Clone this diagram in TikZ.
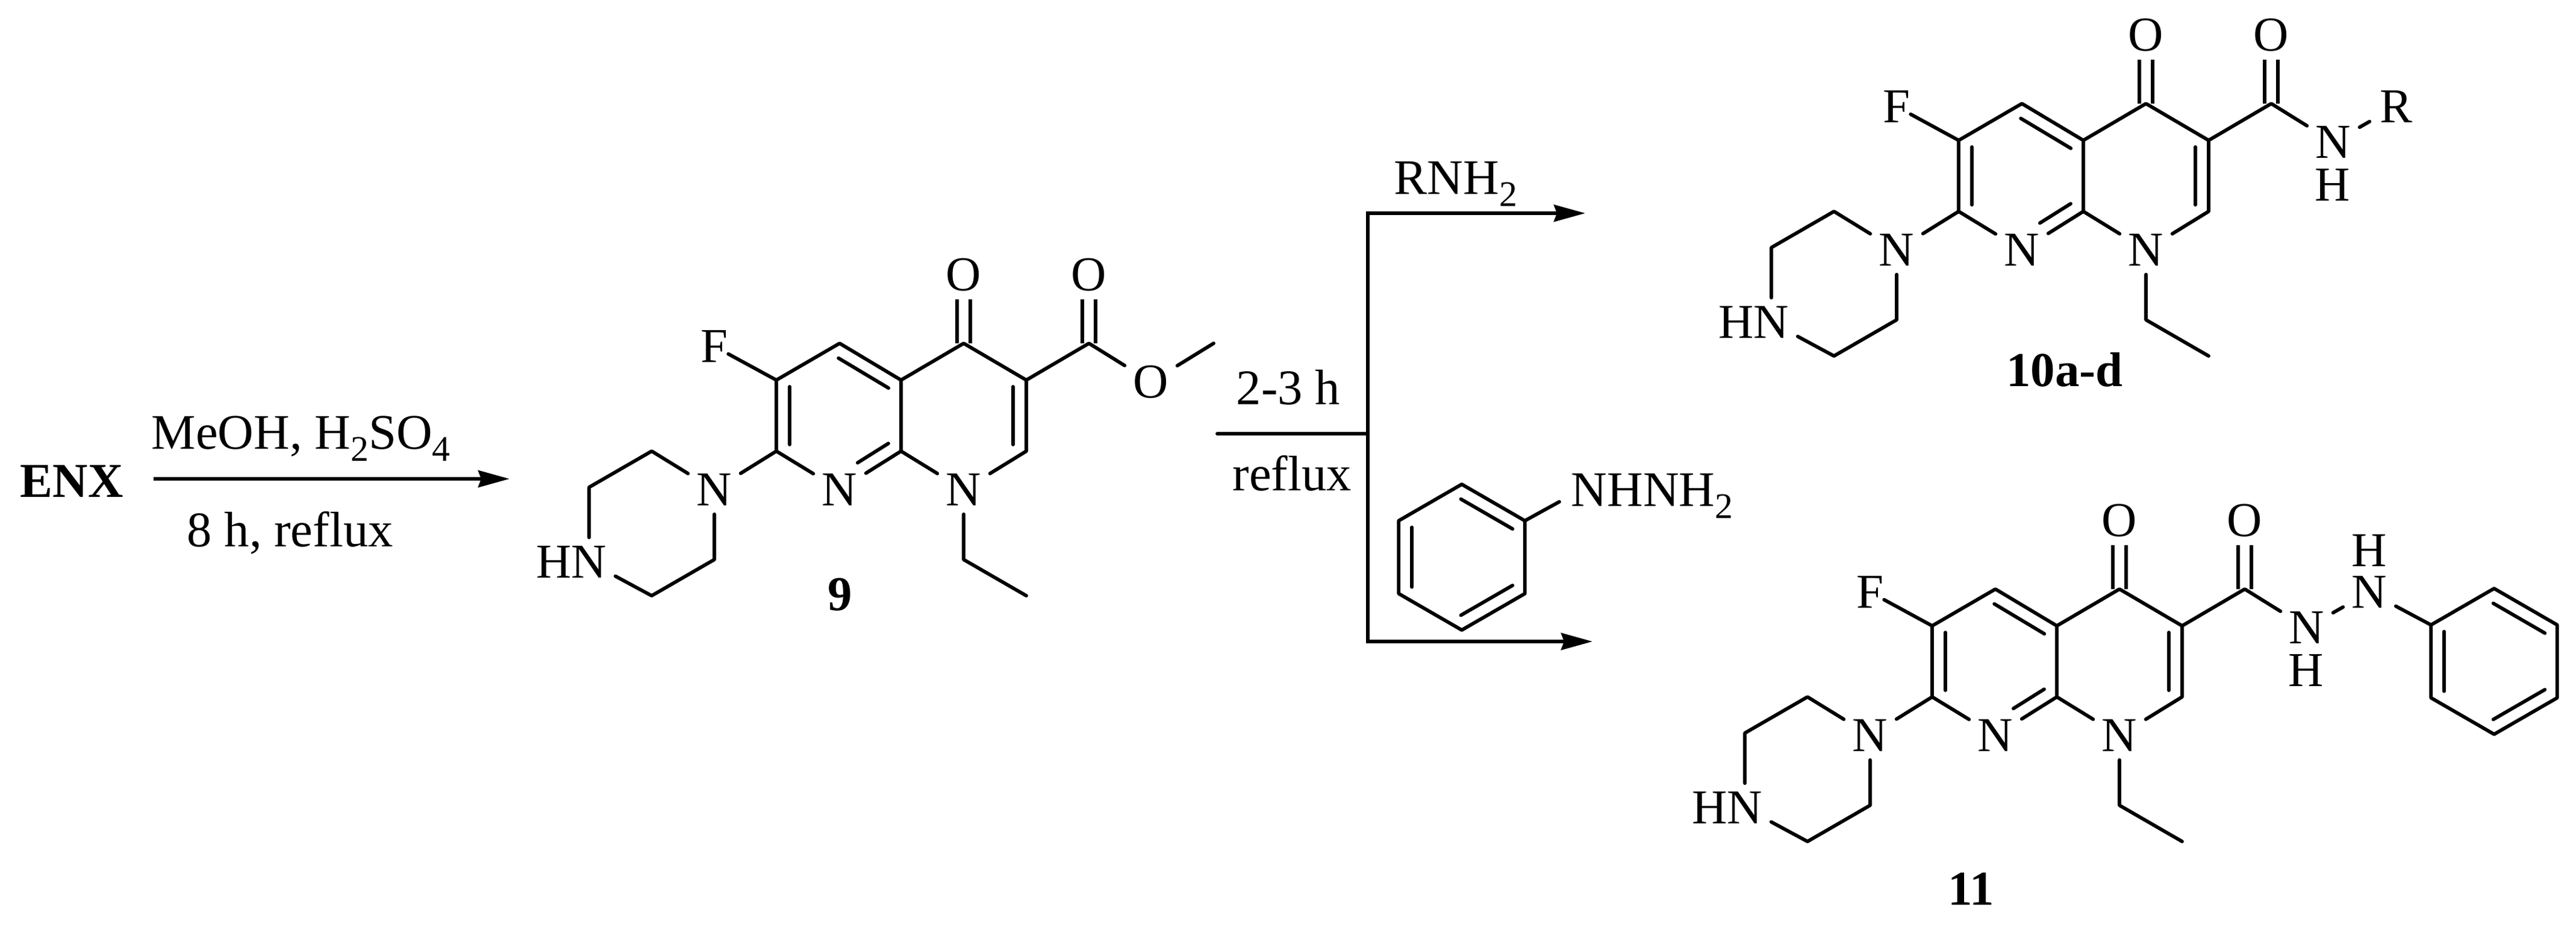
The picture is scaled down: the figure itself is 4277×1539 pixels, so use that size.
\documentclass[tikz,border=0pt]{standalone}
\usepackage{fontspec}
\setmainfont{Liberation Serif}
\usetikzlibrary{calc,arrows.meta}
\tikzset{
  bond/.style={line width=0.058cm,line cap=round,line join=round},
  dblbond/.style={line width=0.058cm,double,double distance=0.16cm},
  ringbond/.style={bond,shorten >=0.11cm,shorten <=0.11cm},
  atom/.style={font=\fontsize{23}{23}\selectfont,inner sep=0pt,minimum width=0.86cm,minimum height=0.8cm},
  tight/.style={font=\fontsize{23}{23}\selectfont,inner sep=0pt},
  reag/.style={font=\fontsize{23.5}{24}\selectfont,inner sep=0pt,anchor=base west},
  cpd/.style={font=\fontsize{23}{23}\selectfont\bfseries,inner sep=0pt,anchor=base},
  rxn/.style={line width=0.058cm}
}
\newcommand\subnum[1]{\raisebox{-0.25em}{\fontsize{17}{17}\selectfont #1}}
\newcommand\ringline[3][]{\draw[ringbond,#1]($(#2)!0.22cm!90:(#3)$)--($(#3)!0.22cm!-90:(#2)$);}
% naphthyridone core, #3 is the atom on the acyl group
\newcommand\corering[3]{
\begin{scope}[shift={(#1)},name prefix=#2-]
\coordinate (c6) at (1289,631);
\coordinate (c5) at (1394,570);
\coordinate (c4a) at (1496,631);
\coordinate (c8a) at (1496,749);
\coordinate (c7) at (1289,749);
\coordinate (c4) at (1600,570);
\coordinate (c3) at (1704,631);
\coordinate (c2) at (1704,749);
\coordinate (co) at (1808,570);
\coordinate (et1) at (1600,929);
\coordinate (et2) at (1704,989);
\coordinate (pz1) at (1082,749);
\coordinate (pz2) at (978,809);
\coordinate (pz3) at (1082,989);
\coordinate (pz4) at (1186,929);
\node[atom] (n8) at (1394,813) {N};
\node[atom] (n1) at (1600,813) {N};
\node[atom] (npz) at (1186,813) {N};
\node[atom] (nh) at (978,933) {\llap{H}N};
\node[tight] (f) at (1186,575) {F};
\node[atom] (o4) at (1600,456) {O};
\node[atom] (oco) at (1808,456) {O};
\node[atom] (x) at (1911,634) {#3};
\draw[dblbond](o4)--(c4);
\draw[dblbond](oco)--(co);
\draw[bond](c7)--(c6)--(c5)--(c4a)--(c4)--(c3)--(c2)--(n1)--(c8a)--(n8)--(c7);
\draw[bond](c4a)--(c8a);
\draw[bond](c3)--(co)--(x);
\draw[bond](c6)--(f);
\draw[bond](c7)--(npz)--(pz1)--(pz2)--(nh)--(pz3)--(pz4)--(npz);
\draw[bond](n1)--(et1)--(et2);
\ringline{c6}{c7}
\ringline{c4a}{c5}
\ringline[shorten <=0.49cm]{n8}{c8a}
\ringline{c2}{c3}
\end{scope}}
\newcommand\phenyl[2]{
\begin{scope}[shift={(#1)},name prefix=#2-]
\foreach \i/\a in {1/-90,2/-30,3/30,4/90,5/150,6/210}
  \coordinate (p\i) at (\a:121);
\draw[bond](p1)--(p2)--(p3)--(p4)--(p5)--(p6)--cycle;
\ringline{p6}{p5}
\ringline{p4}{p3}
\ringline{p2}{p1}
\end{scope}}
\begin{document}
\begin{tikzpicture}[x=0.01cm,y=-0.01cm,>={Stealth[length=0.52cm,width=0.28cm,inset=0.05cm]}]
\useasboundingbox (0,0) rectangle (4277,1539);
\node[cpd,anchor=base west] (enx) at (33,825) {ENX};
\coordinate (a1s) at (255,795);
\coordinate (a1e) at (846,795);
\draw[rxn,->](a1s)--(a1e);
\node[reag] (meoh) at (251,745) {MeOH, H\subnum{2}SO\subnum{4}};
\node[reag] (time1) at (310,907) {8 h, reflux};

\corering{0,0}{e}{O}
\coordinate (me) at (2015,570);
\draw[bond](e-x)--(me);
\node[cpd] (lab9) at (1395,1013) {9};

\coordinate (b0) at (2021,720);
\coordinate (b1) at (2271,720);
\coordinate (b2) at (2271,354);
\coordinate (b3) at (2632,354);
\coordinate (b4) at (2271,1065);
\coordinate (b5) at (2644,1065);
\draw[bond](b0)--(b1);
\draw[rxn,<->](b3)--(b2)--(b4)--(b5);
\node[reag] (time2) at (2052,671) {2-3 h};
\node[reag] (reflux) at (2046,814) {reflux};
\node[reag] (rnh) at (2314,322) {RNH\subnum{2}};
\phenyl{2427,925}{r}
\node[reag] (hyd) at (2608,840) {NHNH\subnum{2}};
\coordinate (hydb) at (2589,833);
\draw[bond](r-p2)--(hydb);

\corering{1963,-398}{a}{N}
\node[tight] (ah) at (3873,307) {H};
\node[atom] (ar) at (3978,177) {R};
\draw[bond](a-x)--(ar);
\node[cpd] (lab10) at (3428,641) {10a-d};

\corering{1919,408}{h}{N}
\node[tight] (hh1) at (3829,1113) {H};
\node[atom] (hn2) at (3934,983) {N};
\node[tight] (hh2) at (3934,914) {H};
\phenyl{4141,1098}{s}
\draw[bond](h-x)--(hn2)--(s-p6);
\node[cpd] (lab11) at (3273,1502) {11};
\end{tikzpicture}
\end{document}
